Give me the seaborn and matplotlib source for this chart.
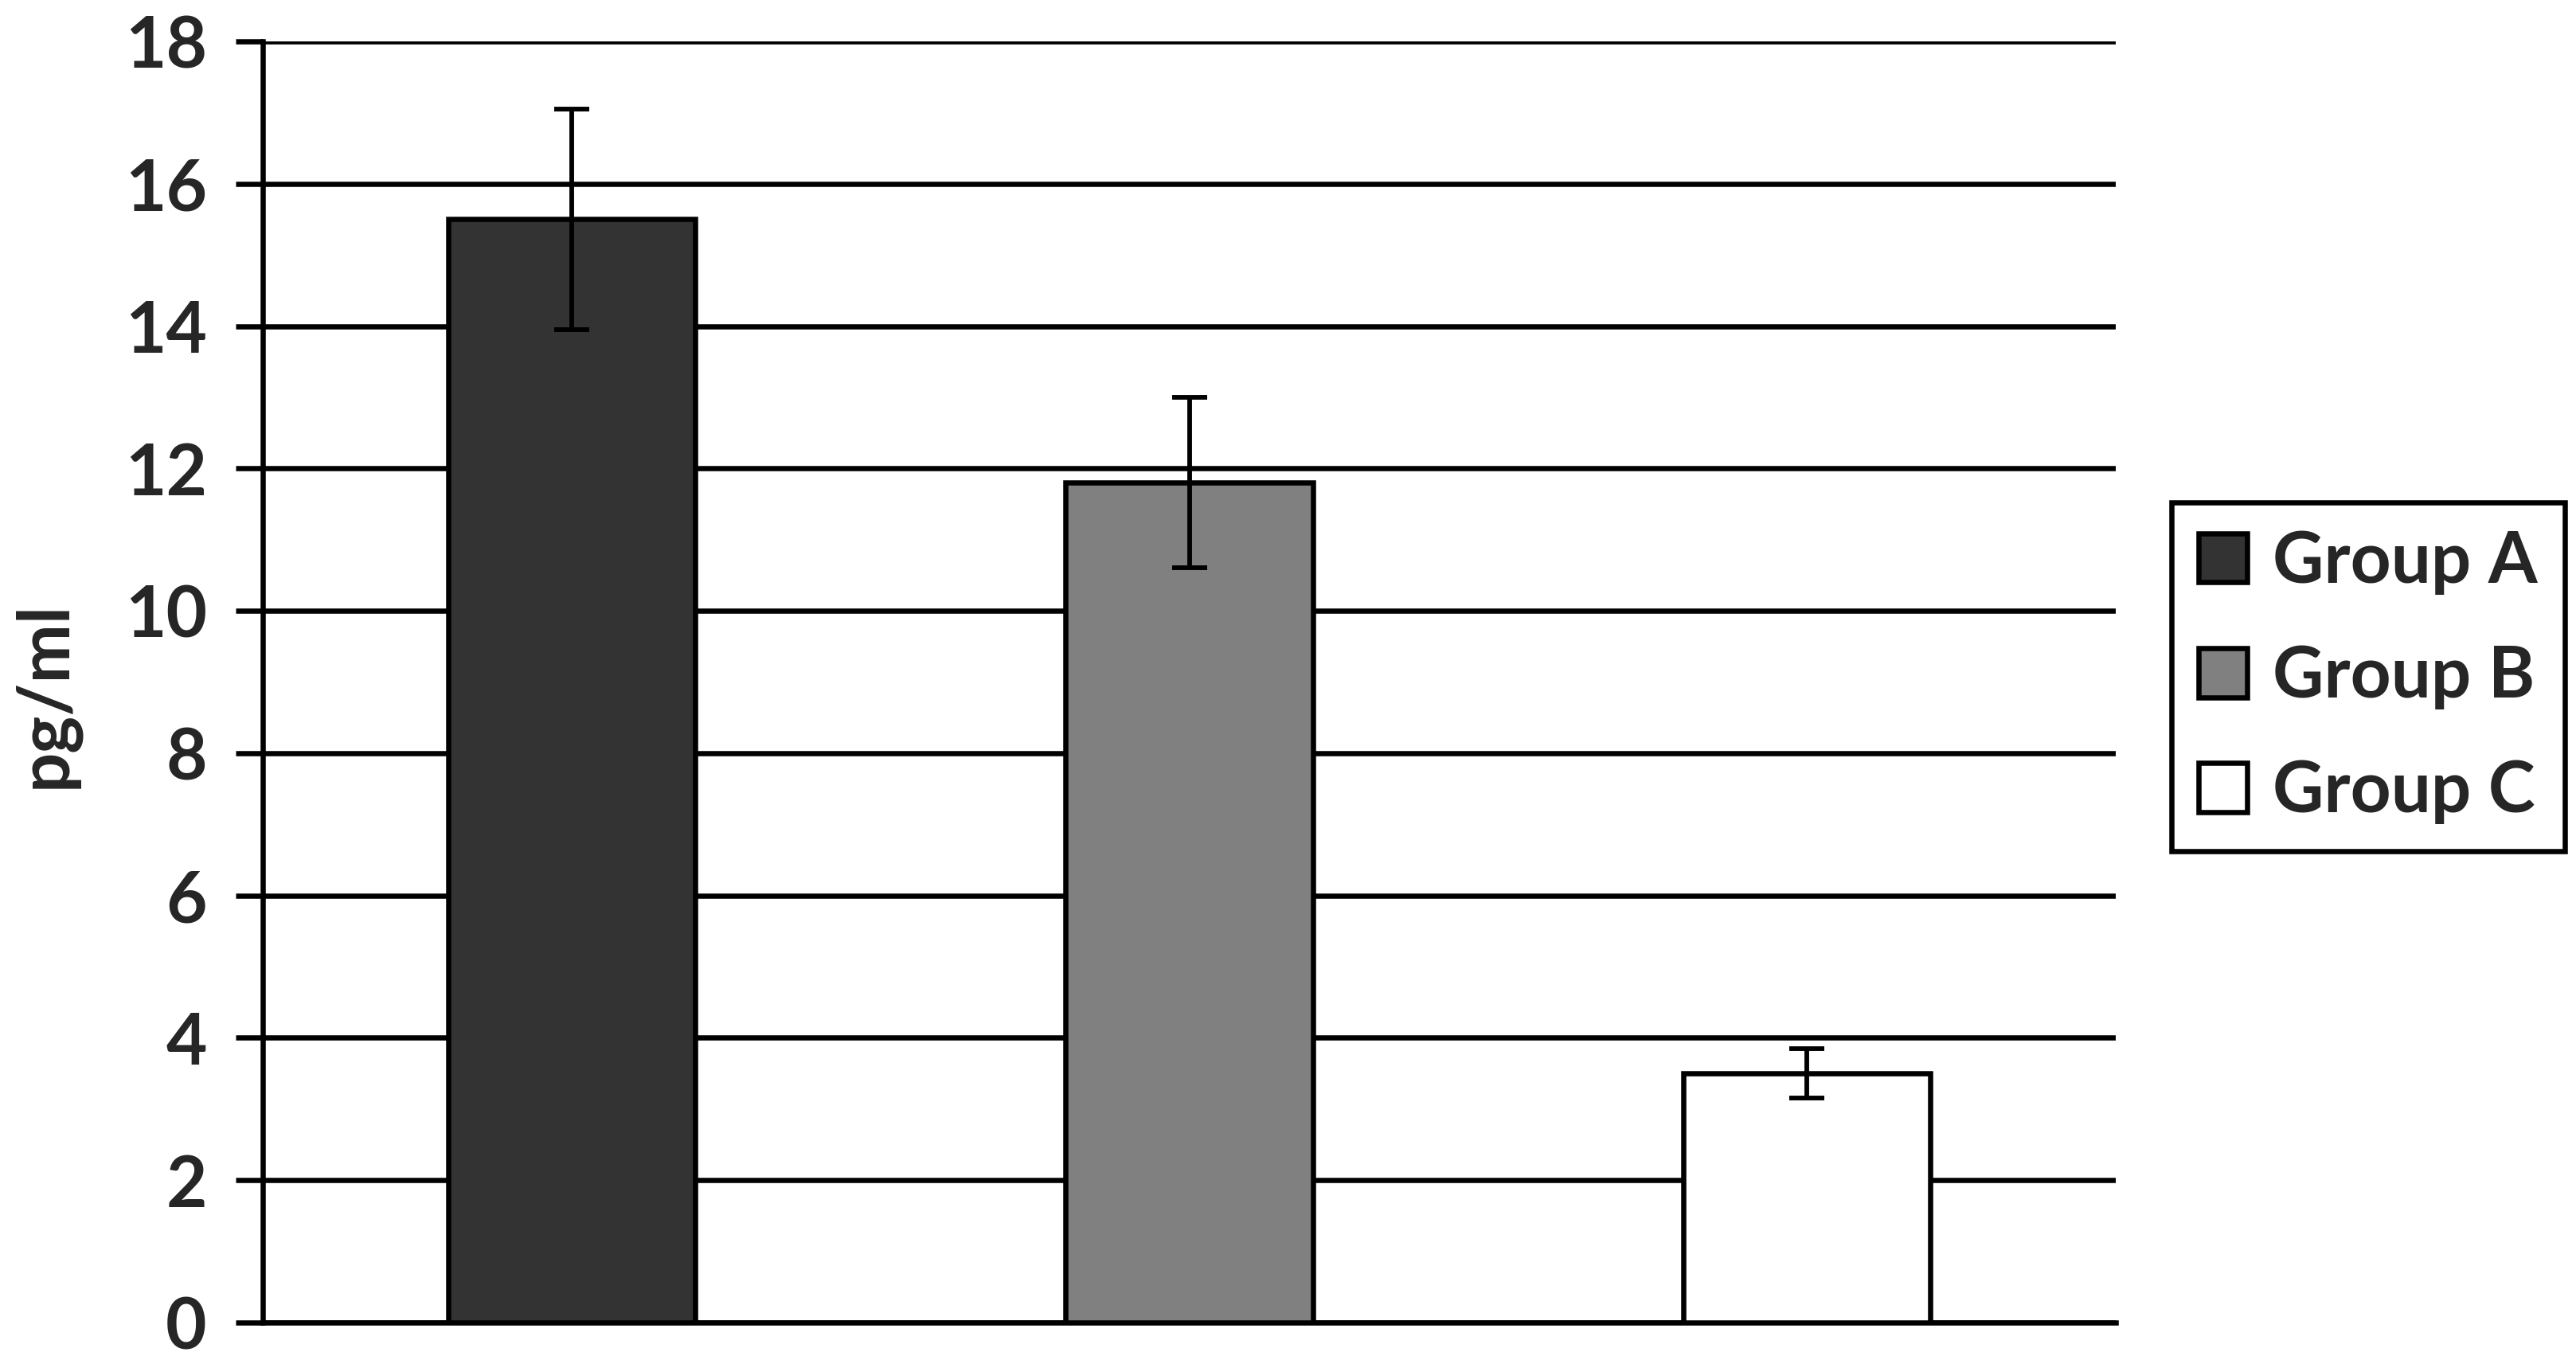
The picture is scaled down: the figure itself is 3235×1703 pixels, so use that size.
import pandas as pd
import matplotlib.pyplot as plt
import seaborn as sns

# values
groups = ['Group A', 'Group B', 'Group C']
means = [15.5, 11.8, 3.5]
errors = [1.55, 1.2, 0.35]
yticks = [0, 2, 4, 6, 8, 10, 12, 14, 16, 18]
bar_colors = ['#333333', '#808080', '#ffffff']

sns.set_style('white')
plt.rcParams['font.family'] = ['Lato', 'DejaVu Sans']
plt.rcParams['font.weight'] = 'bold'

LW = 4.7      # line width in points (about 6.5 px at dpi 100)
FS = 64       # font size in points

df = pd.DataFrame({'group': groups, 'value': means})

fig = plt.figure(figsize=(32.35, 17.03), dpi=100)
ax = fig.add_axes([330 / 3235, 1 - 1661 / 1703, (2657 - 330) / 3235, (1661 - 52) / 1703])

sns.barplot(data=df, x='group', y='value', hue='group', palette=bar_colors,
            edgecolor='black', linewidth=LW, width=0.4, legend=False,
            errorbar=None, saturation=1, ax=ax, zorder=3)

ax.errorbar(x=list(range(len(groups))), y=means, yerr=errors, fmt='none',
            ecolor='black', elinewidth=LW * 0.9, capsize=16, capthick=LW * 0.9, zorder=4)

ax.set_xlim(-0.5, 2.5)
ax.set_ylim(0, 18)
ax.set_yticks(yticks)
ax.set_yticklabels([str(t) for t in yticks], fontsize=FS, fontweight='bold')
ax.set_xticks([])
ax.set_xlabel('')
ax.set_ylabel('pg/ml', fontsize=FS, fontweight='bold')
# label's bottom (right side once rotated) sits at about x=100 px
ax.yaxis.set_label_coords((100 - 330) / 2327, 0.49)

ax.set_axisbelow(True)
ax.grid(axis='y', color='black', linewidth=LW)
ax.grid(axis='x', visible=False)
ax.tick_params(axis='y', direction='out', length=24.5, width=LW, color='black', pad=26, left=True)

for side in ['top', 'right']:
    ax.spines[side].set_visible(False)
for side in ['left', 'bottom']:
    ax.spines[side].set_color('black')
    ax.spines[side].set_linewidth(LW)

handles = ax.patches[:len(groups)]
leg = ax.legend(handles, groups, loc='upper left', bbox_to_anchor=(2727 / 3235, 1 - 631 / 1703),
                bbox_transform=fig.transFigure, borderaxespad=0, fontsize=FS,
                frameon=True, fancybox=False, edgecolor='black', framealpha=1,
                handlelength=0.69, handleheight=0.69, handletextpad=0.36,
                labelspacing=0.7, borderpad=0.38)
leg.get_frame().set_linewidth(LW)
for t in leg.get_texts():
    t.set_fontweight('bold')

fig.savefig('out.png', dpi=100)
